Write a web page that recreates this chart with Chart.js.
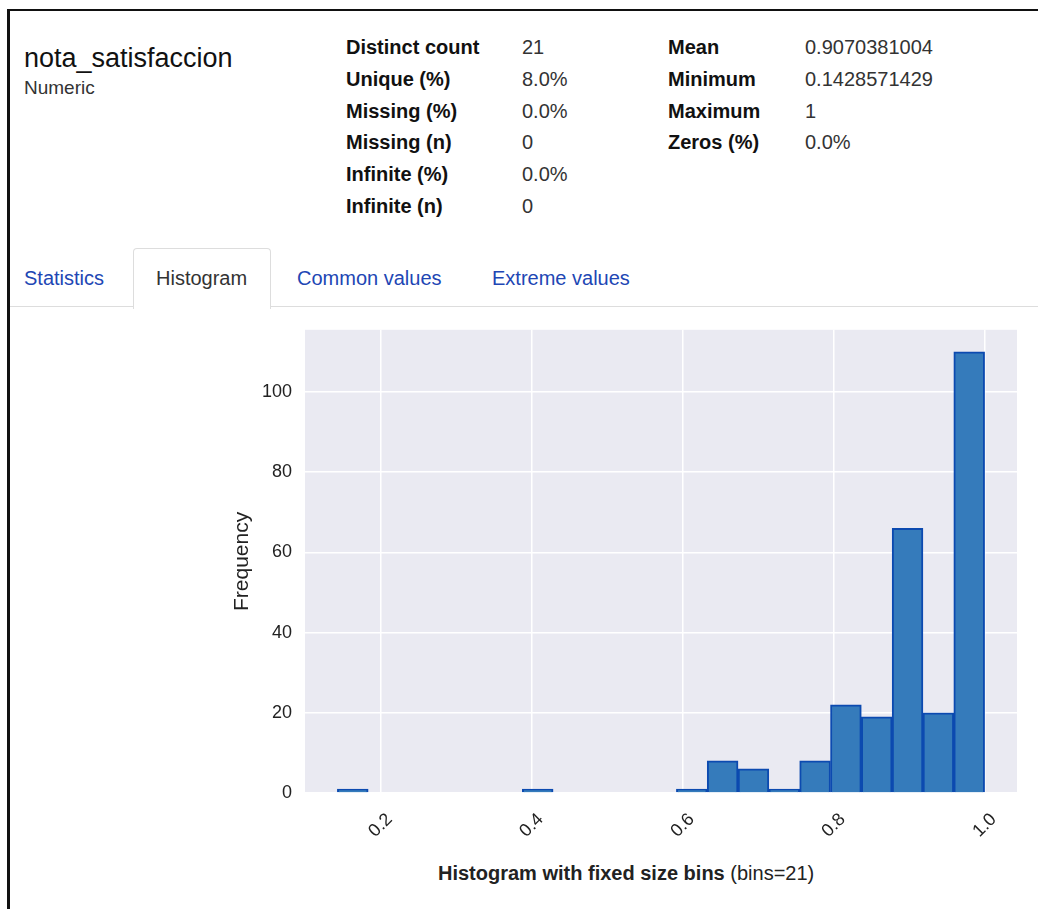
<!DOCTYPE html>
<html>
<head>
<meta charset="utf-8">
<script src="https://cdn.jsdelivr.net/npm/chart.js@4.4.1/dist/chart.umd.min.js"></script>
<style>
    body { margin: 0; background: #fff; font-family: "Liberation Sans", Arial, Helvetica, sans-serif; }
    #page { position: relative; width: 1038px; height: 909px; overflow: hidden; }
    .frame-top { position: absolute; left: 7px; top: 9px; width: 1031px; height: 2px; background: #111; }
    .frame-left { position: absolute; left: 7px; top: 9px; width: 3px; height: 900px; background: #111; }
    .t { position: absolute; white-space: nowrap; }
    .lbl { font-weight: bold; font-size: 20px; color: #111; line-height: 32px; }
    .val { font-size: 20px; color: #333; line-height: 32px; }
    .tabline { position: absolute; left: 10px; top: 306px; width: 1028px; height: 1px; background: #ddd; }
    .tab { position: absolute; font-size: 20px; line-height: 24px; color: #2146b4; }
    .tab-active { position: absolute; left: 133px; top: 248px; width: 136px; height: 60px; border: 1px solid #ddd; border-bottom: none; border-radius: 4px 4px 0 0; background: #fff; }
    #chartBox { position: absolute; left: 0; top: 306px; width: 1038px; height: 544px; }
    .caption { position: absolute; left: 438px; top: 861px; font-size: 20px; line-height: 24px; color: #222; }
</style>
</head>
<body>
<div id="page">
    <div class="frame-top"></div>
    <div class="frame-left"></div>

    <div class="t" style="left:24px; top:42px; font-size:27px; line-height:32px; color:#111;">nota_satisfaccion</div>
    <div class="t" style="left:24px; top:76px; font-size:19px; line-height:24px; color:#333;">Numeric</div>

    <div id="stats"></div>

    <div class="tabline"></div>
    <div class="tab-active"></div>
    <div class="tab" style="left:24px; top:266px;">Statistics</div>
    <div class="tab" style="left:156px; top:266px; color:#333;">Histogram</div>
    <div class="tab" style="left:297px; top:266px;">Common values</div>
    <div class="tab" style="left:492px; top:266px;">Extreme values</div>

    <div id="chartBox"><canvas id="histChart"></canvas></div>
    <div class="caption"><b>Histogram with fixed size bins</b> (bins=21)</div>
</div>

<script>
// Stats table
const statLabelsLeft = ['Distinct count', 'Unique (%)', 'Missing (%)', 'Missing (n)', 'Infinite (%)', 'Infinite (n)'];
const statValuesLeft = ['21', '8.0%', '0.0%', '0', '0.0%', '0'];
const statLabelsRight = ['Mean', 'Minimum', 'Maximum', 'Zeros (%)'];
const statValuesRight = ['0.9070381004', '0.1428571429', '1', '0.0%'];

// Histogram data (bin centres, counts per bin)
const binCenters = [0.16327, 0.20408, 0.24490, 0.28571, 0.32653, 0.36735, 0.40816,
    0.44898, 0.48980, 0.53061, 0.57143, 0.61224, 0.65306, 0.69388,
    0.73469, 0.77551, 0.81633, 0.85714, 0.89796, 0.93878, 0.97959];
const binCounts = [1, 0, 0, 0, 0, 0, 1, 0, 0, 0, 0, 1, 8, 6, 1, 8, 22, 19, 66, 20, 110];
const xTicks = [0.2, 0.4, 0.6, 0.8, 1.0];
const yTicks = [0, 20, 40, 60, 80, 100];

// build stats rows
const stats = document.getElementById('stats');
function addCell(text, cls, left, row) {
    const d = document.createElement('div');
    d.className = 't ' + cls;
    d.style.left = left + 'px';
    d.style.top = (31 + row * 31.8) + 'px';
    d.textContent = text;
    stats.appendChild(d);
}
statLabelsLeft.forEach((s, i) => addCell(s, 'lbl', 346, i));
statValuesLeft.forEach((s, i) => addCell(s, 'val', 522, i));
statLabelsRight.forEach((s, i) => addCell(s, 'lbl', 668, i));
statValuesRight.forEach((s, i) => addCell(s, 'val', 805, i));

// plot background like seaborn
const plotBackground = {
    id: 'plotBackground',
    beforeDraw(chart) {
        const { ctx, chartArea: a } = chart;
        ctx.save();
        ctx.fillStyle = '#eaeaf2';
        ctx.fillRect(a.left, a.top, a.right - a.left, a.bottom - a.top);
        ctx.restore();
    }
};

const ctx = document.getElementById('histChart').getContext('2d');
new Chart(ctx, {
    type: 'bar',
    data: {
        datasets: [{
            data: binCenters.map((x, i) => ({ x: x, y: binCounts[i] })),
            backgroundColor: '#357bbb',
            borderColor: '#0c4ab0',
            borderWidth: 2,
            barPercentage: 1,
            categoryPercentage: 1
        }]
    },
    options: {
        responsive: true,
        maintainAspectRatio: false,
        animation: false,
        layout: { padding: { left: 0, right: 21, top: 0, bottom: 0 } },
        plugins: {
            legend: { display: false },
            tooltip: { enabled: false }
        },
        scales: {
            x: {
                type: 'linear',
                min: 0.1,
                max: 1.0429,
                offset: false,
                afterBuildTicks: scale => { scale.ticks = xTicks.map(v => ({ value: v })); },
                afterFit: scale => { scale.height = 57; },
                grid: { color: '#ffffff', lineWidth: 1.5, drawTicks: false, offset: false },
                border: { display: false },
                ticks: {
                    autoSkip: false,
                    minRotation: 45,
                    maxRotation: 45,
                    padding: 16,
                    labelOffset: 9,
                    color: '#222',
                    font: { family: '"Liberation Sans", Arial, sans-serif', size: 18 },
                    callback: v => Number(v).toFixed(1)
                }
            },
            y: {
                min: 0,
                max: 115.5,
                afterBuildTicks: scale => { scale.ticks = yTicks.map(v => ({ value: v })); },
                afterFit: scale => { scale.width = 305; },
                grid: { color: '#ffffff', lineWidth: 1.5, drawTicks: false },
                border: { display: false },
                ticks: {
                    padding: 13,
                    color: '#222',
                    font: { family: '"Liberation Sans", Arial, sans-serif', size: 18 }
                },
                title: {
                    display: true,
                    text: 'Frequency',
                    color: '#222',
                    padding: { top: 230, bottom: 0 },
                    font: { family: '"Liberation Sans", Arial, sans-serif', size: 21 }
                }
            }
        }
    },
    plugins: [plotBackground]
});
</script>
</body>
</html>
